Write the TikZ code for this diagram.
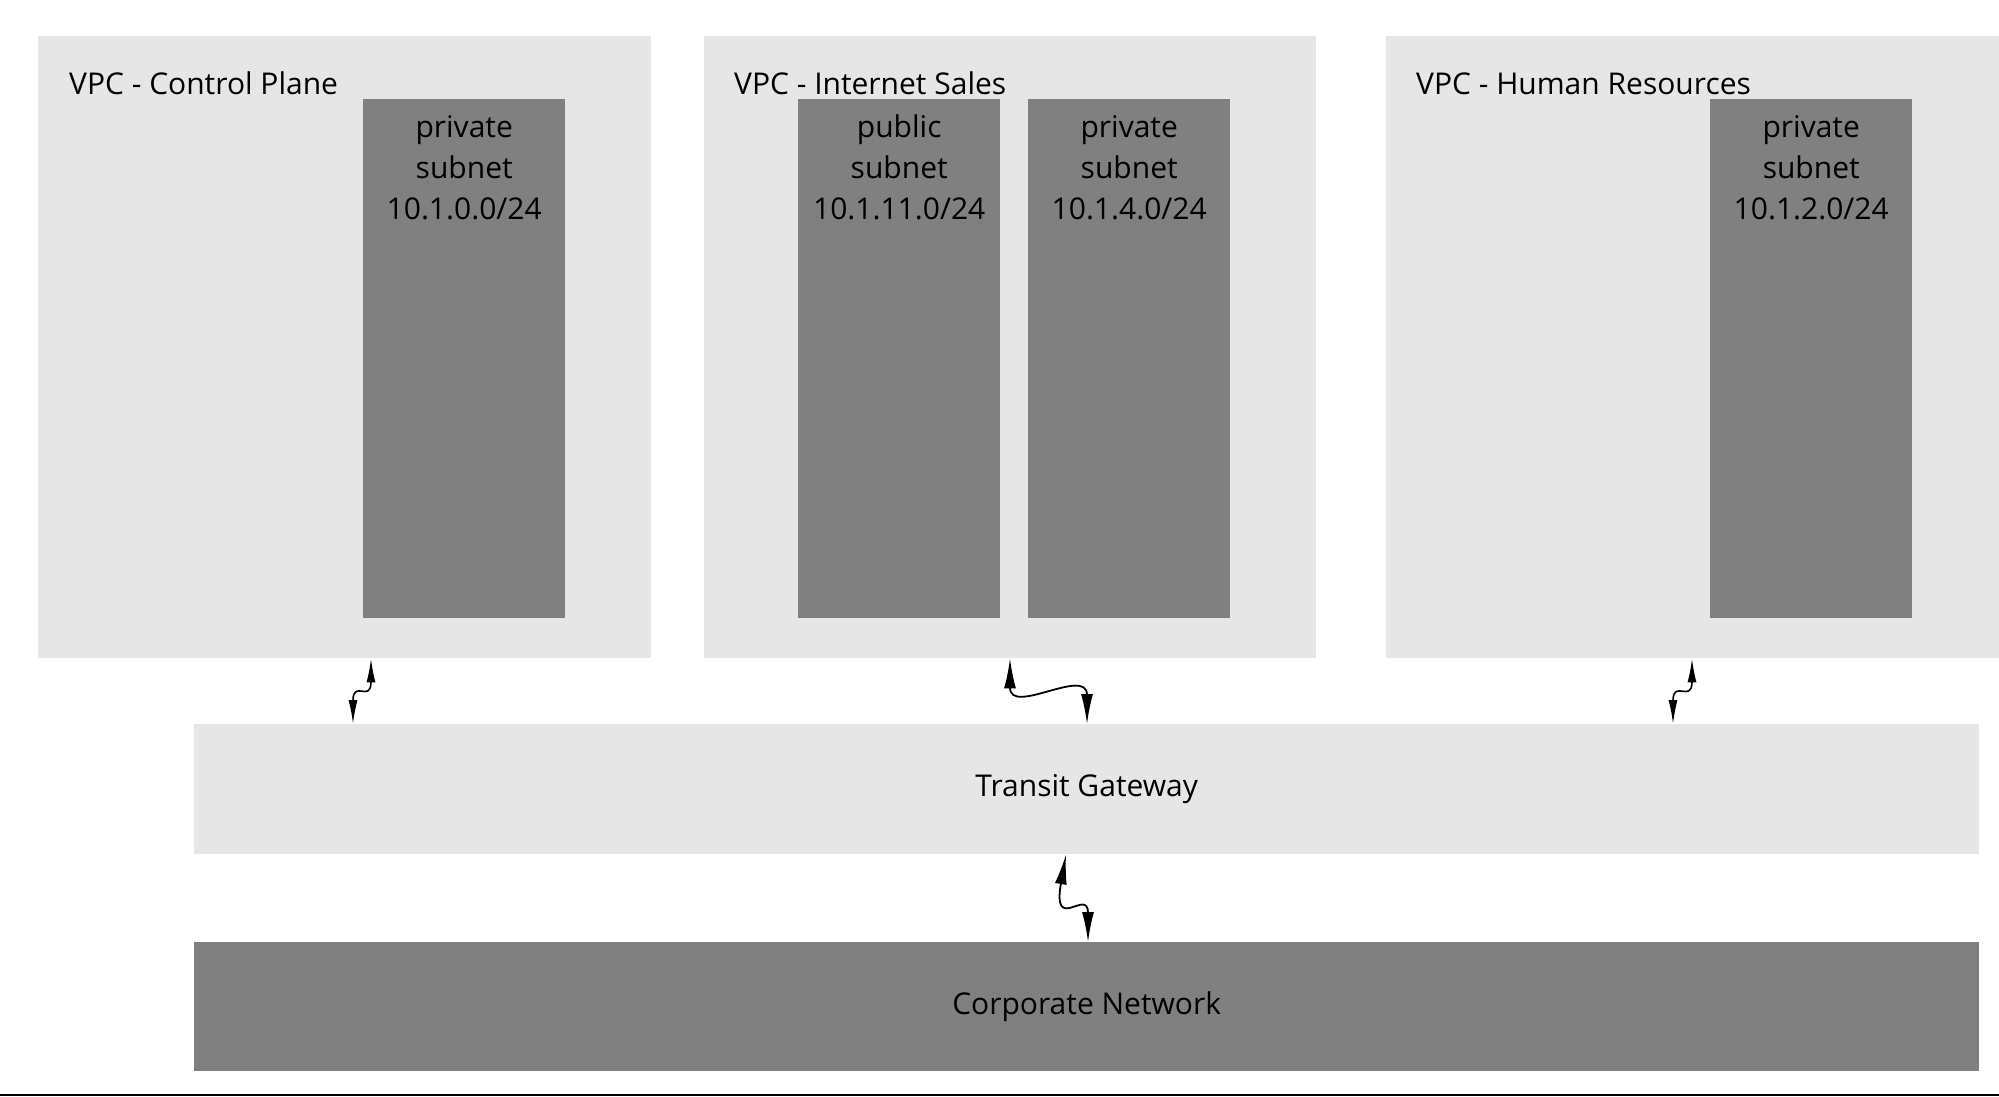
\documentclass[tikz,border=0pt]{standalone}
\usepackage{fontspec}
\setmainfont{Open Sans}
\usetikzlibrary{arrows.meta}

\definecolor{boxlight}{HTML}{E6E6E6}
\definecolor{boxdark}{HTML}{808080}

\tikzset{
  area/.style={fill=boxlight, draw=none, inner sep=0pt, anchor=north west},
  subnet/.style={fill=boxdark, draw=none, inner sep=0pt, anchor=north west,
    minimum width=202pt, minimum height=519pt},
  title/.style={anchor=base west, inner sep=0pt},
  subtext/.style={anchor=base, inner sep=0pt, align=center},
  link/.style={line width=1.6pt, {Latex[length=24pt,width=9pt]}-{Latex[length=24pt,width=9pt]}},
  biglink/.style={line width=1.8pt, {Latex[length=30pt,width=12pt]}-{Latex[length=30pt,width=12pt]}}
}

\begin{document}
\begin{tikzpicture}[x=1pt, y=-1pt, font=\fontsize{30}{41}\selectfont]

  \useasboundingbox (0,0) rectangle (1999,1096);

  % Define nodes
  \node[area, minimum width=613pt, minimum height=622pt] (cp) at (38,36) {};
  \node[area, minimum width=612pt, minimum height=622pt] (is) at (704,36) {};
  \node[area, minimum width=613pt, minimum height=622pt] (hr) at (1386,36) {};

  \node[title] (cptitle) at (69,94) {VPC - Control Plane};
  \node[title] (istitle) at (734,94) {VPC - Internet Sales};
  \node[title] (hrtitle) at (1416,94) {VPC - Human Resources};

  \node[subnet] (cpsub) at (363,99) {};
  \node[subnet] (ispub) at (798,99) {};
  \node[subnet] (ispriv) at (1028,99) {};
  \node[subnet] (hrsub) at (1710,99) {};

  % base sits on the last line
  \node[subtext] (cpsubtext) at ([yshift=-120pt]cpsub.north) {private\\subnet\\10.1.0.0/24};
  \node[subtext] (ispubtext) at ([yshift=-120pt]ispub.north) {public\\subnet\\10.1.11.0/24};
  \node[subtext] (isprivtext) at ([yshift=-120pt]ispriv.north) {private\\subnet\\10.1.4.0/24};
  \node[subtext] (hrsubtext) at ([yshift=-120pt]hrsub.north) {private\\subnet\\10.1.2.0/24};

  \node[area, minimum width=1785pt, minimum height=130pt] (tgw) at (194,724) {};
  \node (tgwtext) at (tgw.center) {Transit Gateway};
  \node[area, fill=boxdark, minimum width=1785pt, minimum height=129pt] (corp) at (194,942) {};
  \node (corptext) at (corp.center) {Corporate Network};

  \coordinate (rulea) at (0,1095);
  \coordinate (ruleb) at (1999,1095);

  % Connect the nodes
  \draw[link] ([xshift=333pt]cp.south west) .. controls +(0,45) and +(0,-45) .. ([xshift=159pt]tgw.north west);
  \draw[biglink] ([xshift=306pt]is.south west) .. controls +(0,58) and +(0,-58) .. ([xshift=893pt]tgw.north west);
  \draw[link] ([xshift=306pt]hr.south west) .. controls +(0,45) and +(0,-45) .. ([xshift=1479pt]tgw.north west);
  \draw[biglink] ([xshift=872pt]tgw.south west) .. controls +(-14,80) and +(0,-55) .. ([xshift=894pt]corp.north west);

  \draw[line width=2.5pt] (rulea) -- (ruleb);

\end{tikzpicture}
\end{document}
